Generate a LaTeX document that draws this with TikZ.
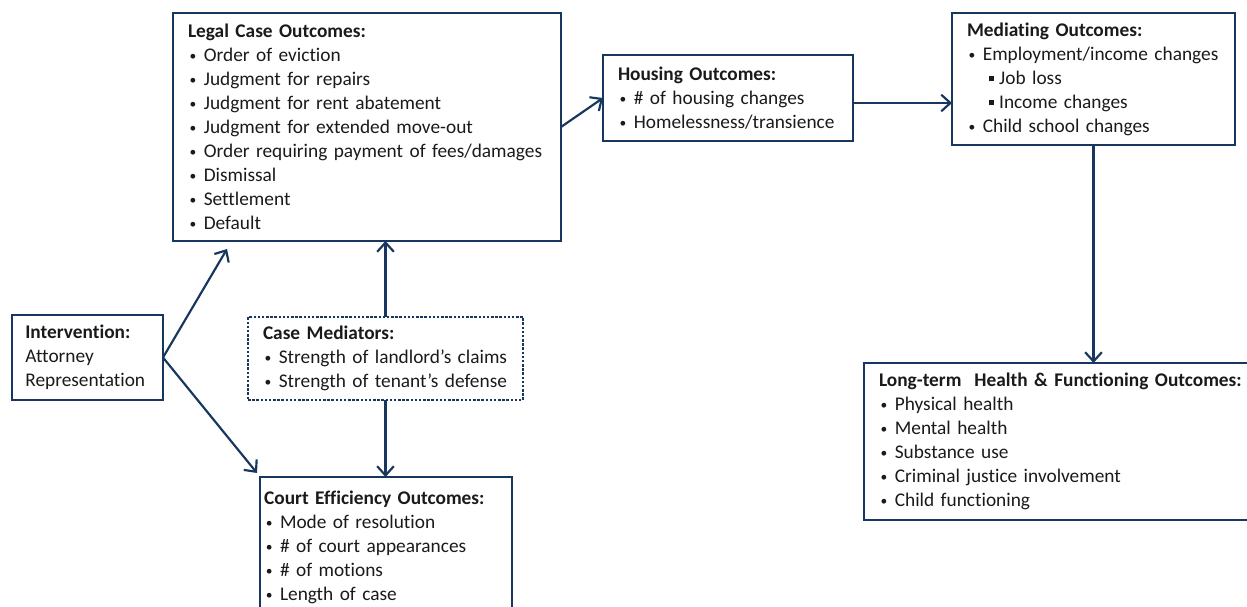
\documentclass[tikz,border=0pt]{standalone}
\usepackage{fontspec}
\setmainfont{Carlito}[Ligatures=NoCommon]
\usetikzlibrary{arrows.meta}

\definecolor{boxline}{HTML}{17375E}
\definecolor{boxtext}{HTML}{1A1A1A}

% bullets for the lists
\newcommand{\bul}{\makebox[9.5pt][l]{\hspace{1pt}\raisebox{0.6pt}{\scalebox{0.7}{\textbullet}}}}
\newcommand{\subbul}{\hspace*{13pt}\rule[1.6pt]{3.3pt}{3.3pt}\hspace{3pt}}

\begin{document}
\begin{tikzpicture}[x=0.6pt,y=-0.6pt,>={Straight Barb[length=5.5pt,width=10pt]},
    outbox/.style={draw=boxline,line width=1.7pt,anchor=north west,align=left,
        inner xsep=9pt,inner ysep=0pt,outer sep=0pt,text=boxtext,
        font=\fontsize{11.6}{14.4}\selectfont},
    link/.style={->,draw=boxline,line width=1.3pt}]

    % page size
    \useasboundingbox (0,0) rectangle (1247,607);
    \clip (0,0) rectangle (1247,607);

    % the boxes
    \node[outbox,text width=214.8pt,minimum height=136.8pt] (legal) at (173,13)
        {\textbf{Legal Case Outcomes:}\\
         \bul Order of eviction\\
         \bul Judgment for repairs\\
         \bul Judgment for rent abatement\\
         \bul Judgment for extended move-out\\
         \bul Order requiring payment of fees/damages\\
         \bul Dismissal\\
         \bul Settlement\\
         \bul Default};

    \node[outbox,text width=132pt,minimum height=51.6pt] (housing) at (603,55)
        {\textbf{Housing Outcomes:}\\
         \bul \# of housing changes\\
         \bul Homelessness/transience};

    \node[outbox,text width=151.8pt,minimum height=79.2pt] (mediating) at (952,13)
        {\textbf{Mediating Outcomes:}\\
         \bul Employment/income changes\\
         \subbul Job loss\\
         \subbul Income changes\\
         \bul Child school changes};

    \node[outbox,text width=220.8pt,minimum height=94.2pt] (longterm) at (864,363)
        {\textbf{Long-term\ \ Health \& Functioning Outcomes:}\\
         \bul Physical health\\
         \bul Mental health\\
         \bul Substance use\\
         \bul Criminal justice involvement\\
         \bul Child functioning};

    \node[outbox,inner xsep=8pt,text width=74.6pt,minimum height=51pt] (interv) at (12,315)
        {\textbf{Intervention:}\\
         Attorney\\
         Representation};

    \node[outbox,dash pattern=on 1.5pt off 1pt,text width=147pt,minimum height=49.8pt] (casemed) at (248,317)
        {\textbf{Case Mediators:}\\
         \bul Strength of landlord’s claims\\
         \bul Strength of tenant’s defense};

    \node[outbox,inner xsep=2.5pt,text width=146.2pt,minimum height=85pt] (court) at (260,477)
        {\textbf{Court Efficiency Outcomes:}\\
         \bul Mode of resolution\\
         \bul \# of court appearances\\
         \bul \# of motions\\
         \bul Length of case};

    % free ends of the two arrows from the intervention
    \coordinate (legtip) at (227,249);
    \coordinate (courttip) at (257,473);
    \coordinate (houseout) at ([yshift=-3pt]housing.east);

    % the arrows
    \draw[link] (interv.east) -- (legtip);
    \draw[link] (interv.east) -- (courttip);
    \draw[link] (casemed.north) -- (casemed.north |- legal.south);
    \draw[link] (casemed.south) -- (casemed.south |- court.north);
    \draw[link] (legal.east) -- (housing.west);
    \draw[link] (houseout) -- (houseout -| mediating.west);
    \draw[link] (mediating.south) -- (mediating.south |- longterm.north);
\end{tikzpicture}
\end{document}
